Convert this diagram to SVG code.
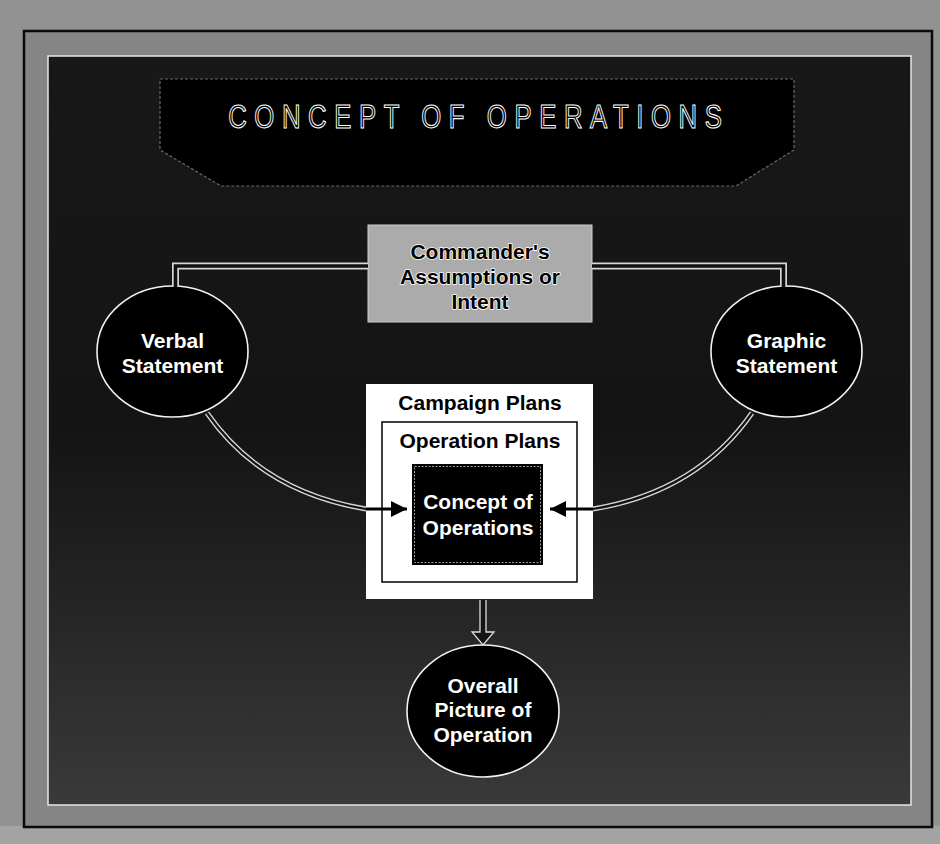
<svg xmlns="http://www.w3.org/2000/svg" width="940" height="844" viewBox="0 0 940 844">
  <defs>
    <linearGradient id="darkGrad" x1="0" y1="0" x2="0" y2="1">
      <stop offset="0" stop-color="#181818"/>
      <stop offset="0.5" stop-color="#141414"/>
      <stop offset="0.75" stop-color="#262626"/>
      <stop offset="1" stop-color="#3a3a3a"/>
    </linearGradient>
    <marker id="arrowBlack" viewBox="0 0 16 16" refX="16" refY="8" markerWidth="16" markerHeight="16" markerUnits="userSpaceOnUse" orient="auto">
      <path d="M0,0 L16,8 L0,16 Z" fill="#000"/>
    </marker>
    <style>
      .lbl { font-family: "Liberation Sans", Arial, Helvetica, sans-serif; font-weight: bold; font-size: 21px; text-anchor: middle; }
      .white { fill: #ffffff; }
      .black { fill: #000000; }
      .halo { fill: #000000; stroke: #ffffff; stroke-width: 1.6px; paint-order: stroke; stroke-linejoin: round; }
      .node-ellipse { fill: #000000; stroke: #f2f2f2; stroke-width: 1.6; }
      .dbl-outer { fill: none; stroke: #d6d6d6; stroke-width: 7; }
      .dbl-inner { fill: none; stroke: #101010; stroke-width: 3.6; }
      .cur-outer { fill: none; stroke: #d6d6d6; stroke-width: 5; }
      .cur-inner { fill: none; stroke: #121212; stroke-width: 2.2; }
      .shaft { fill: none; stroke: #000; stroke-width: 3; }
    </style>
  </defs>

  <!-- background and frame -->
  <rect x="0" y="0" width="940" height="844" fill="#929292"/>
  <rect x="0" y="826" width="940" height="18" fill="#a3a3a3"/>
  <rect x="24" y="31" width="908" height="796" fill="#858585" stroke="#0a0a0a" stroke-width="2.5"/>
  <rect x="48" y="56" width="863" height="749" fill="url(#darkGrad)" stroke="#e6e6e6" stroke-width="1.5"/>

  <!-- title banner -->
  <g id="title">
    <path d="M160,79 H794 V150 L736,186 H221 L160,150 Z" fill="#000" stroke="#6a6a6a" stroke-width="1.2" stroke-dasharray="3 2"/>
    <text transform="translate(475,128) scale(0.78,1)" x="0" y="0" font-family="'Liberation Sans', Arial, sans-serif" font-size="33" fill="#000" stroke="#ffffff" stroke-width="1.1" text-anchor="middle" textLength="633" lengthAdjust="spacing">CONCEPT OF OPERATIONS</text>
  </g>

  <!-- commander's box -->
  <g id="commanders-intent">
    <rect x="368" y="225" width="224" height="97" fill="#ababab" stroke="#cfcfcf" stroke-width="1"/>
    <text class="lbl halo" x="480" y="259">Commander's</text>
    <text class="lbl halo" x="480" y="284">Assumptions or</text>
    <text class="lbl halo" x="480" y="309">Intent</text>
  </g>

  <!-- verbal statement -->
  <g id="verbal-statement">
    <ellipse class="node-ellipse" cx="172.5" cy="351.5" rx="75.5" ry="65.5"/>
    <text class="lbl white" x="172.5" y="347.5">Verbal</text>
    <text class="lbl white" x="172.5" y="372.5">Statement</text>
  </g>

  <!-- graphic statement -->
  <g id="graphic-statement">
    <ellipse class="node-ellipse" cx="786.5" cy="351.5" rx="75.5" ry="65.5"/>
    <text class="lbl white" x="786.5" y="347.5">Graphic</text>
    <text class="lbl white" x="786.5" y="372.5">Statement</text>
  </g>

  <!-- campaign plans -->
  <g id="campaign-plans">
    <rect x="366" y="384" width="227" height="215" fill="#ffffff"/>
    <text class="lbl black" x="480" y="409.5">Campaign Plans</text>
  </g>

  <!-- operation plans -->
  <g id="operation-plans">
    <rect x="382" y="422" width="195" height="160" fill="#ffffff" stroke="#000" stroke-width="1.5"/>
    <text class="lbl black" x="480" y="447.5">Operation Plans</text>
  </g>

  <!-- concept of operations -->
  <g id="concept-of-operations">
    <rect x="412" y="464" width="131" height="101" fill="#000"/>
    <rect x="414.5" y="466.5" width="126" height="96" fill="none" stroke="#9a9a9a" stroke-width="1" stroke-dasharray="2 1.5"/>
    <text class="lbl white" x="478" y="508.5">Concept of</text>
    <text class="lbl white" x="478" y="534.5">Operations</text>
  </g>

  <!-- overall picture -->
  <g id="overall-picture">
    <ellipse class="node-ellipse" cx="483" cy="711" rx="76" ry="66"/>
    <text class="lbl white" x="483" y="692.5">Overall</text>
    <text class="lbl white" x="483" y="716.5">Picture of</text>
    <text class="lbl white" x="483" y="741.5">Operation</text>
  </g>

  <!-- connectors -->
  <g id="connectors">
    <path class="dbl-outer" d="M368,266 H175.5 V287"/>
    <path class="dbl-inner" d="M368,266 H175.5 V287"/>
    <path class="dbl-outer" d="M592,266 H783.5 V287"/>
    <path class="dbl-inner" d="M592,266 H783.5 V287"/>

    <path class="cur-outer" d="M207,413 Q262,492 366,509"/>
    <path class="cur-inner" d="M207,413 Q262,492 366,509"/>
    <path class="cur-outer" d="M752,413 Q697,492 593,509"/>
    <path class="cur-inner" d="M752,413 Q697,492 593,509"/>

    <line class="shaft" x1="366" y1="509" x2="407" y2="509" marker-end="url(#arrowBlack)"/>
    <line class="shaft" x1="593" y1="509" x2="550" y2="509" marker-end="url(#arrowBlack)"/>

    <path d="M480,600 V632 H472 L483,645 L494,632 H486 V600" fill="#151515" stroke="#dcdcdc" stroke-width="1.3" stroke-linejoin="miter"/>
  </g>
</svg>
